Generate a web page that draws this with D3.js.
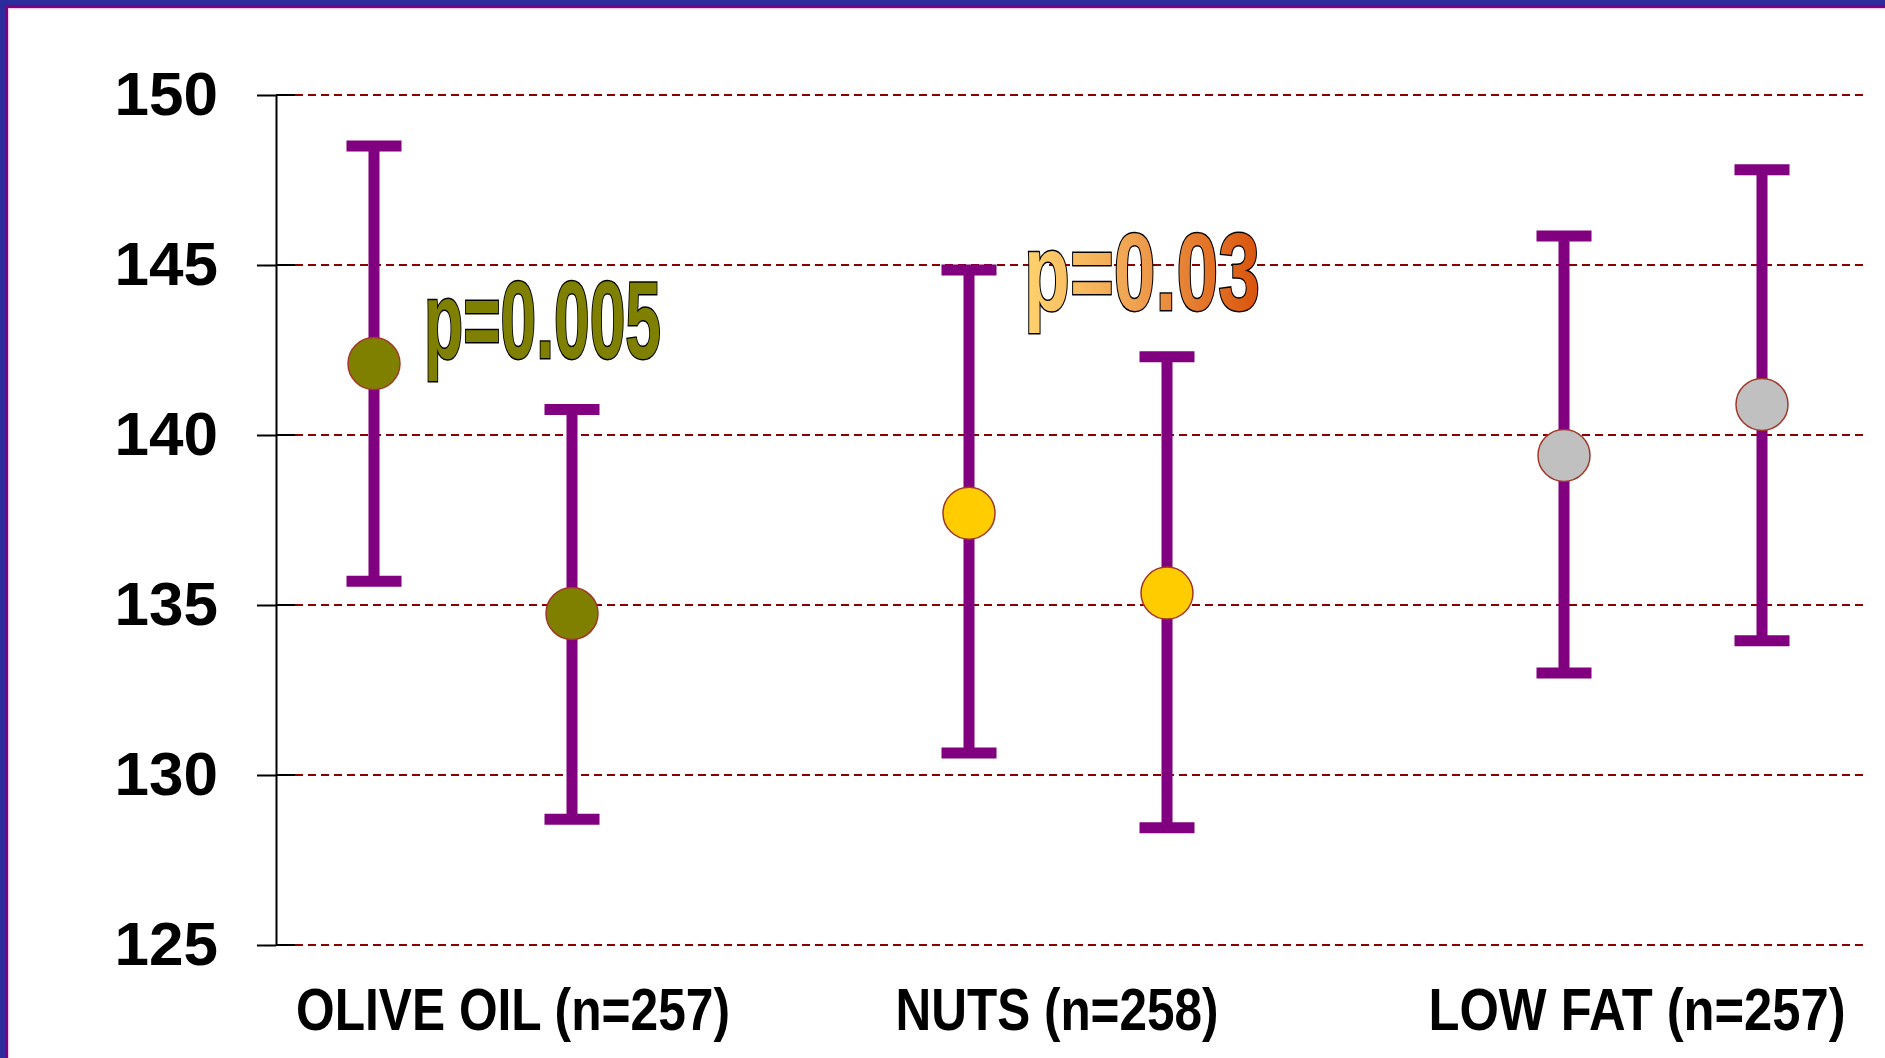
<!DOCTYPE html>
<html>
<head>
<meta charset="utf-8">
<script src="https://cdn.jsdelivr.net/npm/d3@7"></script>
<style>
  html, body { margin: 0; padding: 0; background: #fff; }
  svg { display: block; }
</style>
</head>
<body>
<div id="chart"></div>
<script>
// Data
var groups = ["OLIVE OIL (n=257)", "NUTS (n=258)", "LOW FAT (n=257)"];
var groupColors = ["#808000", "#FFCC00", "#C0C0C0"];
// two measurements per group: [first, second]
var means = [[142.1, 134.75], [137.7, 135.35], [139.4, 140.9]];
var upper = [[148.5, 140.75], [144.85, 142.3], [145.85, 147.8]];
var lower = [[135.7, 128.7], [130.65, 128.45], [133.0, 133.95]];
var yTicks = [125, 130, 135, 140, 145, 150];
var pLabels = ["p=0.005", "p=0.03"];

var width = 1885,
  height = 1058;

var svg = d3.select("#chart")
  .append("svg")
  .attr("width", width)
  .attr("height", height);

var defs = svg.append("defs");
var grad = defs.append("linearGradient")
  .attr("id", "orangeGrad")
  .attr("x1", "0%").attr("x2", "100%")
  .attr("y1", "0%").attr("y2", "0%");
grad.append("stop").attr("offset", "0%").attr("stop-color", "#FFD36E");
grad.append("stop").attr("offset", "45%").attr("stop-color", "#F0A452");
grad.append("stop").attr("offset", "100%").attr("stop-color", "#D9530C");

// frame (top + left)
svg.append("rect").attr("x", 0).attr("y", 0).attr("width", width).attr("height", 5).attr("fill", "#2B2B9B");
svg.append("rect").attr("x", 0).attr("y", 5).attr("width", width).attr("height", 3).attr("fill", "#800080");
svg.append("rect").attr("x", 0).attr("y", 8).attr("width", width).attr("height", 1).attr("fill", "#F0C8F0");
svg.append("rect").attr("x", 0).attr("y", 0).attr("width", 5).attr("height", height).attr("fill", "#2B2B9B");
svg.append("rect").attr("x", 5).attr("y", 5).attr("width", 3).attr("height", height).attr("fill", "#800080");
svg.append("rect").attr("x", 8).attr("y", 8).attr("width", 1).attr("height", height).attr("fill", "#F0C8F0");

// scales
var axisX = 276,
  gridStart = 295,
  gridEnd = 1863;

var y = d3.scaleLinear()
  .domain([125, 150])
  .range([945, 95]);

var x = d3.scalePoint()
  .domain(groups)
  .range([473, 1663]);

var inner = d3.scalePoint()
  .domain([0, 1])
  .range([-99, 99]);

// gridlines
svg.append("g")
  .selectAll("line")
  .data(yTicks)
  .enter().append("line")
  .attr("x1", gridStart)
  .attr("x2", gridEnd)
  .attr("y1", function(d) { return y(d); })
  .attr("y2", function(d) { return y(d); })
  .attr("stroke", "#8B0000")
  .attr("stroke-width", 2)
  .attr("stroke-dasharray", "8,5");

// right half of ticks
svg.append("g")
  .selectAll("line")
  .data(yTicks)
  .enter().append("line")
  .attr("x1", axisX)
  .attr("x2", gridStart)
  .attr("y1", function(d) { return y(d); })
  .attr("y2", function(d) { return y(d); })
  .attr("stroke", "#000")
  .attr("stroke-width", 2);

// y axis
var yAxis = svg.append("g")
  .attr("transform", "translate(" + axisX + ",0)")
  .call(d3.axisLeft(y)
    .tickValues(yTicks)
    .tickSize(19)
    .tickSizeOuter(0)
    .tickPadding(39)
    .tickFormat(d3.format("d")));

yAxis.select(".domain").attr("stroke", "#000").attr("stroke-width", 2);
yAxis.selectAll(".tick line").attr("stroke", "#000").attr("stroke-width", 2);
yAxis.selectAll(".tick text")
  .attr("fill", "#000")
  .attr("dy", "0.31em")
  .style("font-family", "'Liberation Sans', Arial, sans-serif")
  .style("font-weight", "bold")
  .style("font-size", "62px");

// flatten points
var points = [];
groups.forEach(function(g, gi) {
  [0, 1].forEach(function(k) {
    points.push({
      group: g,
      gi: gi,
      k: k,
      mean: means[gi][k],
      hi: upper[gi][k],
      lo: lower[gi][k]
    });
  });
});

function px(d) {
  return x(d.group) + inner(d.k);
}

var capW = 55;

var bars = svg.append("g")
  .selectAll("g")
  .data(points)
  .enter().append("g");

bars.append("line")
  .attr("x1", px).attr("x2", px)
  .attr("y1", function(d) { return y(d.hi); })
  .attr("y2", function(d) { return y(d.lo); })
  .attr("stroke", "#800080")
  .attr("stroke-width", 11);

bars.append("line")
  .attr("x1", function(d) { return px(d) - capW / 2; })
  .attr("x2", function(d) { return px(d) + capW / 2; })
  .attr("y1", function(d) { return y(d.hi); })
  .attr("y2", function(d) { return y(d.hi); })
  .attr("stroke", "#800080")
  .attr("stroke-width", 11);

bars.append("line")
  .attr("x1", function(d) { return px(d) - capW / 2; })
  .attr("x2", function(d) { return px(d) + capW / 2; })
  .attr("y1", function(d) { return y(d.lo); })
  .attr("y2", function(d) { return y(d.lo); })
  .attr("stroke", "#800080")
  .attr("stroke-width", 11);

bars.append("circle")
  .attr("cx", px)
  .attr("cy", function(d) { return y(d.mean); })
  .attr("r", 26)
  .attr("fill", function(d) { return groupColors[d.gi]; })
  .attr("stroke", "#A0382A")
  .attr("stroke-width", 1.5);

// category labels
var labelShift = [40, -11, -26];
var labelLen = [434, 323, 417];
svg.append("g")
  .selectAll("text")
  .data(groups)
  .enter().append("text")
  .attr("x", function(d, i) { return x(d) + labelShift[i]; })
  .attr("y", 1030)
  .attr("text-anchor", "middle")
  .attr("textLength", function(d, i) { return labelLen[i]; })
  .attr("lengthAdjust", "spacingAndGlyphs")
  .style("font-family", "'Liberation Sans', Arial, sans-serif")
  .style("font-weight", "bold")
  .style("font-size", "60px")
  .attr("fill", "#000")
  .text(function(d) { return d; });

// p-values
svg.append("text")
  .attr("x", 424)
  .attr("y", 358)
  .attr("textLength", 237)
  .attr("lengthAdjust", "spacingAndGlyphs")
  .style("font-family", "'Liberation Sans', Arial, sans-serif")
  .style("font-weight", "bold")
  .style("font-size", "110px")
  .attr("fill", "#808000")
  .attr("stroke", "#000")
  .attr("stroke-width", 3)
  .attr("paint-order", "stroke")
  .text(pLabels[0]);

svg.append("text")
  .attr("x", 1024)
  .attr("y", 310)
  .attr("textLength", 236)
  .attr("lengthAdjust", "spacingAndGlyphs")
  .style("font-family", "'Liberation Sans', Arial, sans-serif")
  .style("font-weight", "bold")
  .style("font-size", "110px")
  .attr("fill", "url(#orangeGrad)")
  .attr("stroke", "#000")
  .attr("stroke-width", 3)
  .attr("paint-order", "stroke")
  .text(pLabels[1]);
</script>
</body>
</html>
